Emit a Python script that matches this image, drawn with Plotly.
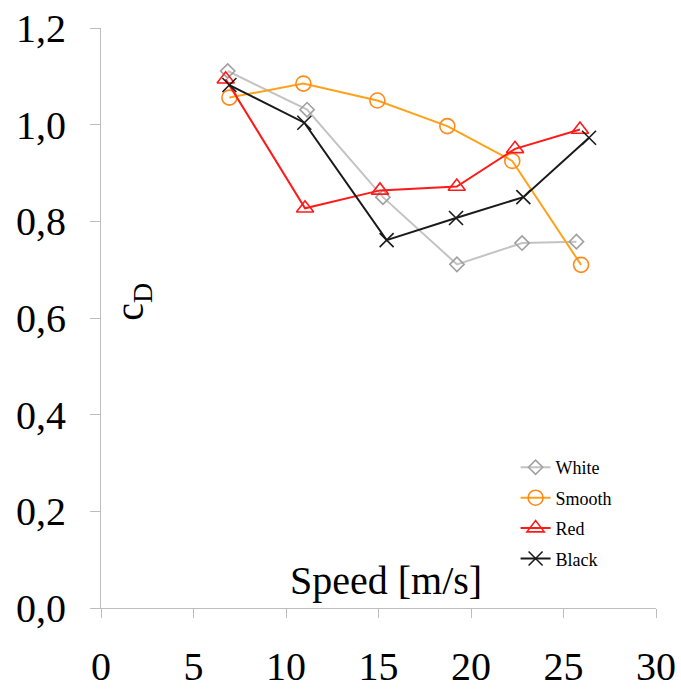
import plotly.graph_objects as go

white_x = [6.85, 11.14, 15.24, 19.24, 22.76, 25.70]
white_y = [1.111, 1.031, 0.850, 0.711, 0.755, 0.758]
smooth_x = [6.94, 10.94, 14.94, 18.72, 22.23, 25.95]
smooth_y = [1.056, 1.085, 1.050, 0.997, 0.925, 0.710]
red_x = [6.74, 11.03, 15.08, 19.23, 22.38, 25.89]
red_y = [1.094, 0.827, 0.864, 0.872, 0.950, 0.990]
black_x = [6.94, 10.99, 15.44, 19.19, 22.83, 26.38]
black_y = [1.082, 1.004, 0.761, 0.807, 0.850, 0.973]

x_ticks = [0, 5, 10, 15, 20, 25, 30]
y_ticks = [0.0, 0.2, 0.4, 0.6, 0.8, 1.0, 1.2]
y_ticktext = ["0,0", "0,2", "0,4", "0,6", "0,8", "1,0", "1,2"]

serif = "Liberation Serif, Times New Roman, serif"

fig = go.Figure()
series = [
    ("White", white_x, white_y, "#c3c3c3", "#a0a0a0", "diamond-open", 11),
    ("Smooth", smooth_x, smooth_y, "#ffa21a", "#ff8a1a", "circle-open", 15),
    ("Red", red_x, red_y, "#ff1a1a", "#ff1a1a", "triangle-up-open", 15),
    ("Black", black_x, black_y, "#1a1a1a", "#1a1a1a", "x-thin-open", 14),
]
for i, (name, xs, ys, lc, mc, sym, sz) in enumerate(series):
    fig.add_trace(go.Scatter(
        x=xs, y=ys, name=name, mode="lines+markers",
        legendgroup=f"g{i}",
        line=dict(color=lc, width=2),
        marker=dict(symbol=sym, size=sz, color=mc, line=dict(color=mc, width=1.6)),
    ))

fig.update_layout(
    width=681, height=690,
    margin=dict(l=101, r=25, t=28, b=82),
    paper_bgcolor="white", plot_bgcolor="white",
    font=dict(family=serif, color="black"),
    showlegend=True,
    legend=dict(
        x=0.747, y=0.274, xanchor="left", yanchor="top",
        font=dict(family=serif, size=18, color="black"),
        bgcolor="rgba(0,0,0,0)",
        itemwidth=30,
        tracegroupgap=4,
        traceorder="grouped",
    ),
    xaxis=dict(
        range=[0, 30], tickvals=x_ticks, ticktext=[str(v) for v in x_ticks],
        showgrid=False, zeroline=False, automargin=False,
        showline=True, linecolor="#bdbdbd", linewidth=1,
        ticks="outside", ticklen=9, tickcolor="#bdbdbd", tickwidth=1,
        tickfont=dict(family=serif, size=40, color="black"),
        ticklabelstandoff=14,
    ),
    yaxis=dict(
        range=[0, 1.2], tickvals=y_ticks, ticktext=y_ticktext,
        showgrid=False, zeroline=False, automargin=False,
        showline=True, linecolor="#bdbdbd", linewidth=1,
        ticks="outside", ticklen=10, tickcolor="#bdbdbd", tickwidth=1,
        tickfont=dict(family=serif, size=40, color="black"),
        ticklabelstandoff=16,
    ),
    annotations=[
        dict(text="Speed [m/s]", x=0.514, y=0.047, xref="paper", yref="paper",
             xanchor="center", yanchor="middle", showarrow=False,
             font=dict(family=serif, size=40, color="black")),
        dict(text="c<sub>D</sub>", x=0.056, y=0.528, xref="paper", yref="paper",
             xanchor="center", yanchor="middle", showarrow=False, textangle=-90,
             font=dict(family=serif, size=40, color="black")),
    ],
)

fig.write_html("out.html")
